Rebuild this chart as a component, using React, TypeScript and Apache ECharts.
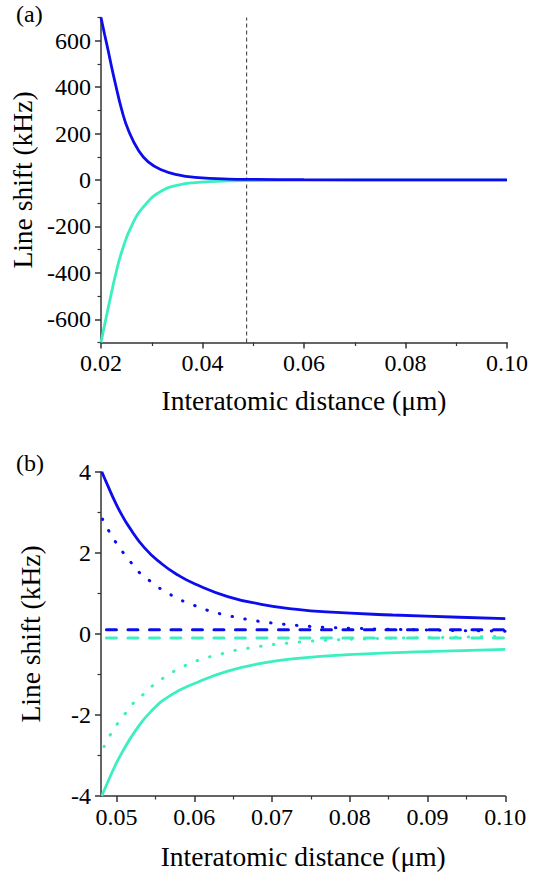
import React, { useEffect, useRef } from "react";
import * as echarts from "echarts";

// ---------- Panel (a) data ----------
const aBlueX = [0.0200, 0.0207, 0.0214, 0.0221, 0.0228, 0.0241, 0.0254, 0.0274, 0.0293, 0.0320, 0.0352, 0.0385, 0.0451, 0.0500, 0.0600, 0.0800, 0.1000];
const aBlueY = [700, 628, 559, 486, 418, 301, 214, 127, 78, 43, 22, 11.5, 4, 2.5, 1.2, 0.6, 0.4];
const aCyanX = [0.0200, 0.0207, 0.0214, 0.0221, 0.0228, 0.0241, 0.0261, 0.0287, 0.0320, 0.0352, 0.0385, 0.0451, 0.0500, 0.0600, 0.0800, 0.1000];
const aCyanY = [-700, -625, -553, -482, -414, -308, -194, -107, -46, -22, -11.5, -4, -2.5, -1.2, -0.6, -0.4];
const aMarkX = [0.0487, 0.0487];
const aMarkY = [-700, 700];

// ---------- Panel (b) data ----------
const bBlueSolidX = [0.0481, 0.0490, 0.0498, 0.0506, 0.0515, 0.0536, 0.0558, 0.0579, 0.0601, 0.0643, 0.0686, 0.0729, 0.0770, 0.0855, 0.0941, 0.1000];
const bBlueSolidY = [4.0, 3.6, 3.26, 2.96, 2.67, 2.12, 1.73, 1.45, 1.23, 0.92, 0.73, 0.61, 0.54, 0.465, 0.41, 0.375];
const bCyanSolidX = [0.0481, 0.0490, 0.0498, 0.0507, 0.0524, 0.0545, 0.0571, 0.0601, 0.0643, 0.0686, 0.0729, 0.0813, 0.0898, 0.1000];
const bCyanSolidY = [-4.0, -3.6, -3.26, -2.93, -2.4, -1.9, -1.5, -1.22, -0.92, -0.73, -0.61, -0.5, -0.44, -0.385];
const bBlueDotX = [0.0482, 0.0490, 0.0499, 0.0509, 0.0519, 0.0530, 0.0544, 0.0559, 0.0574, 0.0589, 0.0606, 0.0622, 0.0639, 0.0656, 0.0673, 0.0691, 0.0708, 0.0725, 0.0744, 0.0770, 0.0808, 0.0842, 0.0910, 0.0980, 0.1000];
const bBlueDotY = [2.83, 2.54, 2.26, 1.99, 1.75, 1.50, 1.29, 1.08, 0.92, 0.78, 0.66, 0.55, 0.47, 0.40, 0.34, 0.29, 0.25, 0.22, 0.19, 0.16, 0.135, 0.115, 0.09, 0.07, 0.065];
const bCyanDotX = [0.0484, 0.0492, 0.0501, 0.0511, 0.0521, 0.0534, 0.0547, 0.0561, 0.0576, 0.0591, 0.0607, 0.0623, 0.0640, 0.0657, 0.0674, 0.0691, 0.0708, 0.0725, 0.0743, 0.0775, 0.0810, 0.0850, 0.0910, 0.0980, 0.1000];
const bCyanDotY = [-2.78, -2.49, -2.22, -1.97, -1.72, -1.50, -1.27, -1.08, -0.90, -0.76, -0.64, -0.55, -0.47, -0.39, -0.34, -0.29, -0.25, -0.22, -0.19, -0.155, -0.13, -0.11, -0.09, -0.07, -0.065];
const bDashX = [0.0487, 0.1000];
const bBlueDashY = [0.1, 0.1];
const bCyanDashY = [-0.1, -0.1];

// ---------- Ticks ----------
const aXTicks = [0.02, 0.04, 0.06, 0.08, 0.1];
const aXMinor = [0.03, 0.05, 0.07, 0.09];
const aYTicks = [-600, -400, -200, 0, 200, 400, 600];
const aYMinor = [-700, -500, -300, -100, 100, 300, 500, 700];
const bXTicks = [0.05, 0.06, 0.07, 0.08, 0.09, 0.1];
const bXMinor = [0.055, 0.065, 0.075, 0.085, 0.095];
const bYTicks = [-4, -2, 0, 2, 4];
const bYMinor = [-3, -1, 1, 3];

const xTitle = "Interatomic distance (\u03bcm)";
const yTitle = "Line shift (kHz)";

const BLUE = "#0c0ced";
const CYAN = "#3cefc0";
const AXIS = "#333333";
const FONT = "Liberation Serif";

const zip = (xs: number[], ys: number[]) => xs.map((x, i) => [x, ys[i]]);

export default function App() {
  const ref = useRef<HTMLDivElement>(null);
  useEffect(() => {
    document.body.style.margin = "0";
    const chart = echarts.init(ref.current!, null, { renderer: "svg" });

    const tickLabel = { color: "#000", fontFamily: FONT, fontSize: 24 };
    const mainX = (grid: number, min: number, max: number, ticks: number[], gap: number) => ({
      type: "value", gridIndex: grid, min, max, position: "bottom",
      name: xTitle, nameLocation: "middle", nameGap: gap,
      nameTextStyle: { color: "#000", fontFamily: FONT, fontSize: 27.5 },
      axisLine: { show: true, onZero: false, lineStyle: { color: AXIS, width: 1.5 } },
      axisTick: { show: true, inside: false, length: 6, customValues: ticks, lineStyle: { color: AXIS, width: 1.5 } },
      axisLabel: { show: true, margin: 8.5, customValues: ticks, formatter: (v: number) => v.toFixed(2), ...tickLabel },
      splitLine: { show: false },
    });
    const minorX = (grid: number, min: number, max: number, ticks: number[]) => ({
      type: "value", gridIndex: grid, min, max, position: "bottom",
      axisLine: { show: false, onZero: false },
      axisTick: { show: true, inside: false, length: 3.5, customValues: ticks, lineStyle: { color: AXIS, width: 1.2 } },
      axisLabel: { show: false },
      splitLine: { show: false },
    });
    const mainY = (grid: number, min: number, max: number, ticks: number[]) => ({
      type: "value", gridIndex: grid, min, max, position: "left",
      name: yTitle, nameLocation: "middle", nameGap: 57,
      nameTextStyle: { color: "#000", fontFamily: FONT, fontSize: 27.5 },
      axisLine: { show: true, onZero: false, lineStyle: { color: AXIS, width: 1.5 } },
      axisTick: { show: true, inside: false, length: 6, customValues: ticks, lineStyle: { color: AXIS, width: 1.5 } },
      axisLabel: { show: true, margin: 10, customValues: ticks, formatter: (v: number) => String(v), ...tickLabel },
      splitLine: { show: false },
    });
    const minorY = (grid: number, min: number, max: number, ticks: number[]) => ({
      type: "value", gridIndex: grid, min, max, position: "left",
      axisLine: { show: false, onZero: false },
      axisTick: { show: true, inside: false, length: 3.5, customValues: ticks, lineStyle: { color: AXIS, width: 1.2 } },
      axisLabel: { show: false },
      splitLine: { show: false },
    });

    const line = (xi: number, yi: number, xs: number[], ys: number[], color: string, type: any, width: number, smooth: any = 0.5) => ({
      type: "line", xAxisIndex: xi, yAxisIndex: yi, data: zip(xs, ys),
      showSymbol: false, symbol: "none", smooth,
      lineStyle: { color, width, type, cap: type === "solid" ? "butt" : "round" },
      silent: true,
    });

    chart.setOption({
      animation: false,
      textStyle: { fontFamily: FONT },
      grid: [
        { left: 101, top: 17.5, width: 406, height: 325 },
        { left: 101, top: 471.7, width: 404.3, height: 324.3 },
      ],
      xAxis: [
        mainX(0, 0.02, 0.1, aXTicks, 44),
        minorX(0, 0.02, 0.1, aXMinor),
        mainX(1, 0.048, 0.1, bXTicks, 46),
        minorX(1, 0.048, 0.1, bXMinor),
      ],
      yAxis: [
        mainY(0, -700, 700, aYTicks),
        minorY(0, -700, 700, aYMinor),
        mainY(1, -4, 4, bYTicks),
        minorY(1, -4, 4, bYMinor),
      ],
      graphic: [
        { type: "text", left: 16, top: 2, style: { text: "(a)", fontFamily: FONT, fontSize: 24, fill: "#000" } },
        { type: "text", left: 16, top: 451, style: { text: "(b)", fontFamily: FONT, fontSize: 24, fill: "#000" } },
      ],
      series: [
        {
          type: "line", xAxisIndex: 0, yAxisIndex: 0, data: zip(aMarkX, aMarkY),
          showSymbol: false, symbol: "none", silent: true,
          lineStyle: { color: "#333", width: 1, type: [4, 3] },
        },
        line(0, 0, aCyanX, aCyanY, CYAN, "solid", 2.8),
        line(0, 0, aBlueX, aBlueY, BLUE, "solid", 2.8),
        line(2, 2, bDashX, bCyanDashY, CYAN, [10, 11.5], 3, false),
        line(2, 2, bDashX, bBlueDashY, BLUE, [10, 11.5], 3, false),
        line(2, 2, bCyanDotX, bCyanDotY, CYAN, [0.5, 12.5], 3),
        line(2, 2, bBlueDotX, bBlueDotY, BLUE, [0.5, 12.5], 3),
        line(2, 2, bCyanSolidX, bCyanSolidY, CYAN, "solid", 2.8),
        line(2, 2, bBlueSolidX, bBlueSolidY, BLUE, "solid", 2.8),
      ],
    });
    return () => chart.dispose();
  }, []);
  return <div ref={ref} style={{ width: 544, height: 873 }} />;
}
